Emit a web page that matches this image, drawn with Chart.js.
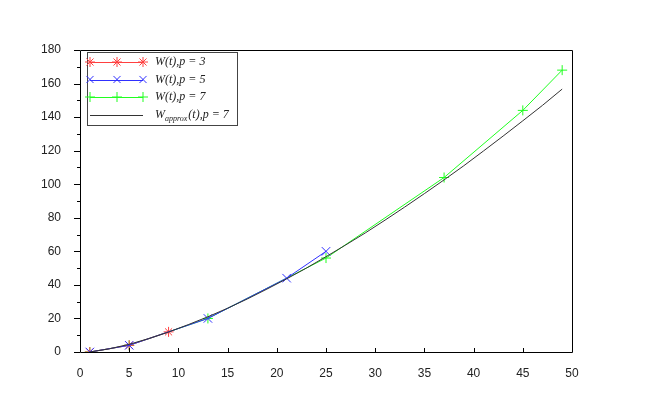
<!DOCTYPE html>
<html>
<head>
<meta charset="utf-8">
<script src="https://cdn.jsdelivr.net/npm/chart.js@4/dist/chart.umd.min.js"></script>
<style>
  html, body { margin: 0; padding: 0; background: #fff; }
  #wrap { width: 654px; height: 402px; }
</style>
</head>
<body>
<div id="wrap"><canvas id="chart" width="654" height="402"></canvas></div>
<script>
// values
var t3 = [1, 5, 9];
var w3 = [0, 4, 12];
var t5 = [1, 5, 13, 21, 25];
var w5 = [0, 4, 20, 44, 60];
var t7 = [1, 5, 13, 25, 37, 45, 49];
var w7 = [0, 4, 20, 56, 104, 144, 168];
var tApprox = [1, 3, 5, 7, 9, 11, 13, 15, 17, 19, 21, 23, 25, 27, 29, 31, 33, 35, 37, 39, 41, 43, 45, 47, 49];
var wApprox = [0, 1.9, 4.6, 8, 11.9, 16.3, 21, 26.1, 31.6, 37.5, 43.6, 50, 56.8, 63.8, 71, 78.6, 86.4, 94.4, 102.6, 111, 119.8, 128.7, 137.8, 147, 156.7];
var xTicks = [0, 5, 10, 15, 20, 25, 30, 35, 40, 45, 50];
var yTicks = [0, 20, 40, 60, 80, 100, 120, 140, 160, 180];

function pts(xs, ys) {
    return xs.map(function(x, i) { return { x: x, y: ys[i] }; });
}

// frame, inward x ticks, outward y ticks with minor ones, legend box
var framePlugin = {
    id: 'frame',
    afterDraw: function(chart) {
        var ctx = chart.ctx, a = chart.chartArea;
        var xs = chart.scales.x, ys = chart.scales.y;
        ctx.save();
        ctx.strokeStyle = '#000';
        ctx.lineWidth = 1;
        ctx.beginPath();
        ctx.rect(Math.round(a.left) + 0.5, Math.round(a.top) + 0.5,
            Math.round(a.right - a.left), Math.round(a.bottom - a.top));
        ctx.stroke();

        ctx.beginPath();
        xTicks.forEach(function(v) {
            var px = Math.round(xs.getPixelForValue(v)) + 0.5;
            ctx.moveTo(px, a.bottom);
            ctx.lineTo(px, a.bottom - 4);
        });
        for (var v = 0; v <= 180; v += 10) {
            var py = Math.round(ys.getPixelForValue(v)) + 0.5;
            ctx.moveTo(a.left, py);
            ctx.lineTo(a.left - (v % 20 === 0 ? 6 : 3), py);
        }
        ctx.stroke();

        // legend
        var lx = 87, ly = 52, lw = 150, lh = 73;
        ctx.fillStyle = '#fff';
        ctx.fillRect(lx, ly, lw, lh);
        ctx.strokeStyle = '#444';
        ctx.strokeRect(lx + 0.5, ly + 0.5, lw, lh);

        var rows = [
            { color: '#ff4040', style: 'star', text: 'W(t),p = 3' },
            { color: '#3030ff', style: 'crossRot', text: 'W(t),p = 5' },
            { color: '#20ff20', style: 'cross', text: 'W(t),p = 7' },
            { color: '#333', style: null, text: null }
        ];
        rows.forEach(function(r, i) {
            var y = 62 + i * 17.5;
            ctx.strokeStyle = r.color;
            ctx.lineWidth = 1;
            ctx.beginPath();
            ctx.moveTo(90, Math.round(y) + 0.5);
            ctx.lineTo(143, Math.round(y) + 0.5);
            ctx.stroke();
            if (r.style) {
                [90, 117, 143].forEach(function(mx) {
                    Chart.helpers.drawPoint(ctx, { pointStyle: r.style, radius: 5, rotation: 0, borderWidth: 1 }, mx, y);
                });
            }
            ctx.fillStyle = '#222';
            ctx.textBaseline = 'middle';
            ctx.font = 'italic 12px "Liberation Serif"';
            if (r.text) {
                ctx.fillText(r.text, 155, y);
            } else {
                ctx.fillText('W', 155, y);
                var wW = ctx.measureText('W').width;
                ctx.font = 'italic 8px "Liberation Serif"';
                ctx.fillText('approx', 155 + wW, y + 4);
                var wA = ctx.measureText('approx').width;
                ctx.font = 'italic 12px "Liberation Serif"';
                ctx.fillText('(t),p = 7', 155 + wW + wA + 1, y);
            }
        });
        ctx.restore();
    }
};

new Chart(document.getElementById('chart'), {
    type: 'scatter',
    data: {
        datasets: [
            {
                label: 'W(t), p = 3',
                data: pts(t3, w3),
                showLine: true,
                borderColor: '#ff4040',
                backgroundColor: '#ff4040',
                borderWidth: 1,
                pointStyle: 'star',
                pointRadius: 5,
                pointBorderWidth: 1,
                order: 2
            },
            {
                label: 'W(t), p = 5',
                data: pts(t5, w5),
                showLine: true,
                borderColor: '#3030ff',
                backgroundColor: '#3030ff',
                borderWidth: 1,
                pointStyle: 'crossRot',
                pointRadius: 6,
                pointBorderWidth: 1,
                order: 1
            },
            {
                label: 'W(t), p = 7',
                data: pts(t7, w7),
                showLine: true,
                borderColor: '#20ff20',
                backgroundColor: '#20ff20',
                borderWidth: 1,
                pointStyle: 'cross',
                pointRadius: 5,
                pointBorderWidth: 1,
                order: 3
            },
            {
                label: 'W_approx(t), p = 7',
                data: pts(tApprox, wApprox),
                showLine: true,
                borderColor: '#333',
                borderWidth: 1,
                pointRadius: 0,
                order: 0
            }
        ]
    },
    options: {
        responsive: false,
        animation: false,
        events: [],
        layout: { padding: { left: 0, right: 82, top: 50, bottom: 0 } },
        plugins: {
            legend: { display: false },
            tooltip: { enabled: false }
        },
        scales: {
            x: {
                type: 'linear',
                min: 0,
                max: 50,
                afterFit: function(s) { s.height = 50; },
                afterBuildTicks: function(s) { s.ticks = xTicks.map(function(v) { return { value: v }; }); },
                grid: { display: false },
                border: { display: false },
                ticks: { color: '#222', padding: 6, font: { family: '"Liberation Sans"', size: 12 } }
            },
            y: {
                type: 'linear',
                min: 0,
                max: 180,
                afterFit: function(s) { s.width = 80; },
                afterBuildTicks: function(s) { s.ticks = yTicks.map(function(v) { return { value: v }; }); },
                grid: { display: false },
                border: { display: false },
                ticks: { color: '#222', padding: 11, font: { family: '"Liberation Sans"', size: 12 } }
            }
        }
    },
    plugins: [framePlugin]
});
</script>
</body>
</html>
